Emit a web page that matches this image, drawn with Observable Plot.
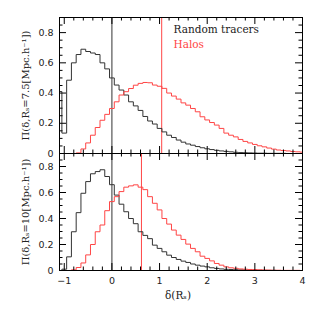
<!DOCTYPE html>
<html><head><meta charset="utf-8">
<script src="https://cdn.jsdelivr.net/npm/d3@7"></script>
<script src="https://cdn.jsdelivr.net/npm/@observablehq/plot@0.6"></script>
<style>
html,body{margin:0;padding:0;background:#fff;}
#chart{position:relative;width:319px;height:319px;overflow:hidden;background:#fff;}
#chart svg{position:absolute;left:0;}
</style></head><body><div id="chart"></div>
<script>
// bin centres of the histograms (delta)
const binCenters = [-1.1,-1.0,-0.9,-0.8,-0.7,-0.6,-0.5,-0.4,-0.3,-0.2,-0.1,
  0.0,0.1,0.2,0.3,0.4,0.5,0.6,0.7,0.8,0.9,
  1.0,1.1,1.2,1.3,1.4,1.5,1.6,1.7,1.8,1.9,
  2.0,2.1,2.2,2.3,2.4,2.5,2.6,2.7,2.8,2.9,
  3.0,3.1,3.2,3.3,3.4,3.5,3.6,3.7,3.8,3.9,4.0];

const topRandom = [0.41,0.135,0.485,0.60,0.655,0.69,0.675,0.665,0.655,0.60,0.56,
  0.50,0.453,0.42,0.387,0.342,0.315,0.285,0.245,0.215,0.195,
  0.166,0.143,0.121,0.106,0.089,0.075,0.063,0.055,0.046,0.038,
  0.031,0.026,0.021,0.017,0.014,0.011,0.008,0.006,0.005,0.004,
  0.003,0.002,0.002,0.001,0.001,0.001,0.001,0,0,0,0];

const topHalos = [0,0,0,0,0.004,0.03,0.07,0.121,0.172,0.22,0.259,
  0.298,0.342,0.387,0.409,0.43,0.452,0.464,0.47,0.468,0.453,
  0.445,0.431,0.40,0.38,0.36,0.335,0.32,0.298,0.276,0.243,
  0.222,0.205,0.188,0.166,0.135,0.121,0.11,0.093,0.08,0.07,
  0.06,0.051,0.044,0.036,0.029,0.023,0.02,0.017,0.013,0.011,0.009];

const bottomRandom = [0,0.01,0.105,0.298,0.445,0.594,0.684,0.744,0.761,0.775,0.723,
  0.66,0.58,0.51,0.452,0.40,0.36,0.298,0.27,0.245,0.195,
  0.17,0.144,0.118,0.1,0.085,0.072,0.062,0.05,0.041,0.034,
  0.028,0.021,0.016,0.012,0.009,0.008,0.006,0.005,0.004,0.003,
  0.002,0.002,0.001,0.001,0.001,0,0,0,0,0,0];

const bottomHalos = [0,0,0,0.005,0.023,0.058,0.12,0.2,0.298,0.35,0.46,
  0.53,0.568,0.607,0.641,0.651,0.659,0.641,0.622,0.568,0.517,
  0.466,0.40,0.357,0.311,0.272,0.239,0.203,0.17,0.144,0.11,
  0.093,0.074,0.054,0.041,0.028,0.021,0.017,0.012,0.01,0.008,
  0.007,0.005,0.004,0.003,0.002,0.002,0.001,0.001,0.001,0.001,0];

const seriesNames = ["Random tracers", "Halos"];
const markerTop = 1.045;
const markerBottom = 0.62;
const xTickValues = [-1, 0, 1, 2, 3, 4];
const yTickValues = [0, 0.2, 0.4, 0.6, 0.8];
const yLabelTop = "Π(δ,Rₛ=7.5[Mpc.h⁻¹])";
const yLabelBottom = "Π(δ,Rₛ=10[Mpc.h⁻¹])";
const xLabel = "δ(Rₛ)";

const xDomain = [-1.1, 4];
const yDomain = [0, 0.9];
const W = 319, ML = 59, MR = 17;
const INK = "#333", RED = "#ff4545";

function steps(vals) {
  const h = (binCenters[1] - binCenters[0]) / 2;
  const pts = binCenters.map((c, i) => ({x: c - h, y: vals[i]}));
  pts.push({x: binCenters[binCenters.length - 1] + h, y: vals[vals.length - 1]});
  return pts;
}

function tickRules(plotH) {
  const ky = (yDomain[1] - yDomain[0]) / plotH;
  const kx = (xDomain[1] - xDomain[0]) / (W - ML - MR);
  const isInt = d => Math.abs(d - Math.round(d)) < 1e-6;
  const xMin = d3.range(-1, 4.0001, 0.2).filter(d => !isInt(d));
  const yMaj = yTickValues;
  const yMin = d3.range(0.05, 0.9, 0.05).filter(d => yMaj.every(m => Math.abs(m - d) > 1e-6));
  const M = 7, m = 3.5;
  const opt = {stroke: "#000", strokeWidth: 1};
  return [
    Plot.ruleX(xTickValues, {...opt, y1: yDomain[0], y2: yDomain[0] + M * ky}),
    Plot.ruleX(xTickValues, {...opt, y1: yDomain[1] - M * ky, y2: yDomain[1]}),
    Plot.ruleX(xMin, {...opt, y1: yDomain[0], y2: yDomain[0] + m * ky}),
    Plot.ruleX(xMin, {...opt, y1: yDomain[1] - m * ky, y2: yDomain[1]}),
    Plot.ruleY(yMaj, {...opt, x1: xDomain[0], x2: xDomain[0] + M * kx}),
    Plot.ruleY(yMaj, {...opt, x1: xDomain[1] - M * kx, x2: xDomain[1]}),
    Plot.ruleY(yMin, {...opt, x1: xDomain[0], x2: xDomain[0] + m * kx}),
    Plot.ruleY(yMin, {...opt, x1: xDomain[1] - m * kx, x2: xDomain[1]})
  ];
}

function panel({rand, halo, marker, ylabel, height, marginTop, marginBottom, showX, legend}) {
  const plotH = height - marginTop - marginBottom;
  const marks = [
    Plot.ruleX([0], {stroke: INK, strokeWidth: 1}),
    Plot.ruleX([marker], {stroke: RED, strokeWidth: 1}),
    Plot.line(steps(rand), {x: "x", y: "y", curve: "step-after", stroke: INK, strokeWidth: 1, clip: true}),
    Plot.line(steps(halo), {x: "x", y: "y", curve: "step-after", stroke: RED, strokeWidth: 1, clip: true}),
    Plot.frame({stroke: "#000", strokeWidth: 1}),
    ...tickRules(plotH),
    Plot.axisY(yTickValues, {anchor: "left", tickSize: 0, tickPadding: 6, tickFormat: d3.format("~g"), label: null, fill: "#222"}),
    Plot.text([ylabel], {frameAnchor: "left", dx: -34, rotate: -90, text: d => d, textAnchor: "middle", lineAnchor: "middle", fontFamily: "DejaVu Serif", fontSize: 10, fill: "#222"})
  ];
  if (showX) {
    marks.push(Plot.axisX(xTickValues, {anchor: "bottom", tickSize: 0, tickPadding: 7, tickFormat: d3.format("~g"), label: null, fill: "#222"}));
    marks.push(Plot.text([xLabel], {frameAnchor: "bottom", dy: 25, dx: -3, text: d => d, lineAnchor: "middle", fontFamily: "DejaVu Serif", fontSize: 10.5, fill: "#222"}));
  }
  if (legend) {
    marks.push(Plot.text([seriesNames[0]], {frameAnchor: "top-left", dx: 114, dy: 12.3, text: d => d, textAnchor: "start", lineAnchor: "middle", fontFamily: "DejaVu Serif", fontSize: 10.5, fill: "#222"}));
    marks.push(Plot.text([seriesNames[1]], {frameAnchor: "top-left", dx: 114, dy: 27.3, text: d => d, textAnchor: "start", lineAnchor: "middle", fontFamily: "DejaVu Serif", fontSize: 10.5, fill: RED}));
  }
  return Plot.plot({
    width: W, height, marginLeft: ML, marginRight: MR, marginTop, marginBottom,
    x: {domain: xDomain, label: null, axis: showX ? undefined : null},
    y: {domain: yDomain, label: null},
    style: {background: "transparent", overflow: "visible", fontFamily: "DejaVu Sans", fontSize: "9.5px", color: "#222"},
    marks
  });
}

const chart = document.getElementById("chart");
const top1 = panel({rand: topRandom, halo: topHalos, marker: markerTop, ylabel: yLabelTop, height: 160, marginTop: 17, marginBottom: 7, showX: false, legend: true});
top1.style.top = "0px";
const bot1 = panel({rand: bottomRandom, halo: bottomHalos, marker: markerBottom, ylabel: yLabelBottom, height: 173, marginTop: 7, marginBottom: 49, showX: true, legend: false});
bot1.style.top = "146px";
chart.appendChild(top1);
chart.appendChild(bot1);
</script></body></html>
